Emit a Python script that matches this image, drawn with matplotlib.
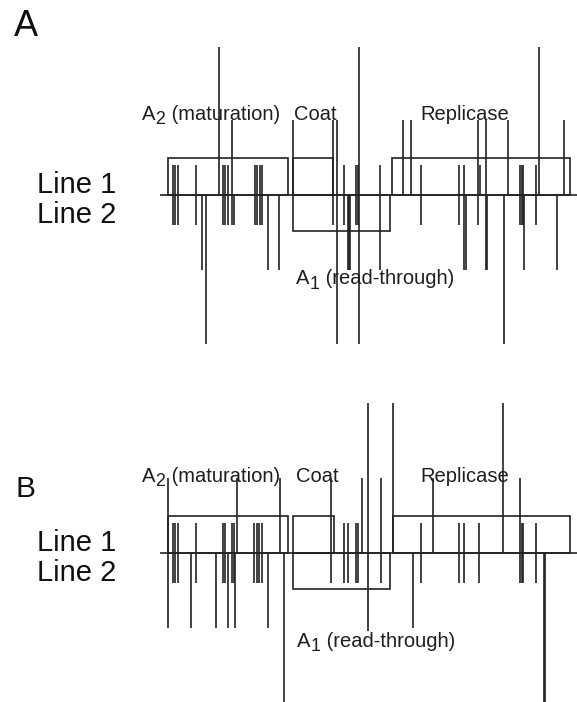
import matplotlib
matplotlib.use("Agg")
import matplotlib.pyplot as plt
from matplotlib.patches import Rectangle

plt.rcParams['font.family'] = ['Liberation Sans', 'DejaVu Sans']

# ---------------- data ----------------
# genes: name, start, end, side (+1 = Line 1 / above, -1 = Line 2 / below)
gene_names = ["A2", "Coat", "A1", "Replicase"]
gene_start_A = [167.7, 292.7, 292.7, 392.0]
gene_end_A = [288.3, 333.0, 390.0, 570.0]
gene_start_B = [167.5, 293.3, 293.3, 392.7]
gene_end_B = [288.3, 334.0, 390.0, 570.0]
gene_side = [1, 1, -1, 1]

# Panel A mutations: position, Line 1 value (up), Line 2 value (down)
pos_A = [172.5, 175.0, 177.5, 195.7, 201.7, 206.0, 219.0, 222.8, 225.3, 227.8,
         232.3, 233.6, 254.5, 257.0, 259.5, 262.0, 267.5, 279.3, 292.6, 332.7,
         336.7, 344.3, 347.7, 349.0, 350.3, 356.2, 357.6, 359.3, 380.0, 402.7,
         410.7, 420.7, 459.3, 464.0, 465.5, 478.3, 479.5, 486.0, 487.2, 504.3,
         507.5, 520.3, 521.6, 522.9, 524.3, 536.0, 539.3, 556.7, 563.5]
line1_A = [1, 1, 1, 1, 0, 0, 4.95, 1, 1, 1,
           2.5, 0, 1, 1, 1, 1, 0, 0, 2.5, 2.5,
           2.5, 1, 0, 0, 0, 1, 1, 4.95, 1, 2.5,
           2.5, 1, 1, 1, 0, 2.5, 1, 2.5, 0, 0,
           2.5, 1, 1, 1, 0, 1, 4.95, 0, 2.5]
line2_A = [1, 1, 1, 1, 2.5, 4.95, 0, 1, 1, 1,
           1, 1, 1, 1, 1, 1, 2.5, 2.5, 0, 1,
           4.95, 1, 2.5, 2.5, 2.5, 1, 1, 4.95, 2.5, 0,
           0, 1, 1, 2.5, 2.5, 1, 0, 2.5, 2.5, 4.95,
           0, 1, 1, 1, 2.5, 1, 0, 2.5, 0]

# Panel B mutations
pos_B = [167.7, 172.8, 175.3, 177.8, 190.7, 195.7, 215.5, 222.8, 225.3, 227.8,
         232.3, 233.6, 235.3, 237.0, 254.0, 256.5, 259.0, 261.5, 267.5, 280.0,
         283.5, 331.0, 344.3, 347.7, 356.3, 357.6, 362.3, 367.7, 381.0, 393.3,
         413.3, 420.7, 433.3, 459.3, 464.0, 479.3, 502.7, 520.3, 521.6, 522.9,
         536.0, 544.0, 545.3]
line1_B = [2.5, 1, 1, 1, 0, 1, 0, 1, 1, 0,
           1, 1, 0, 2.5, 1, 1, 1, 1, 0, 2.5,
           0, 2.5, 1, 1, 1, 1, 2.5, 5.0, 2.5, 5.0,
           0, 1, 2.5, 1, 1, 1, 5.0, 2.5, 1, 1,
           1, 0, 0]
line2_B = [2.5, 1, 1, 1, 2.5, 1, 2.5, 1, 1, 2.5,
           1, 1, 2.5, 0, 1, 1, 1, 1, 2.5, 0,
           5.0, 1, 1, 1, 1, 1, 0, 2.6, 1, 0,
           2.5, 1, 0, 1, 1, 1, 0, 1, 1, 1,
           1, 5.0, 5.0]

# ---------------- drawing ----------------
W, H = 577, 702
fig = plt.figure(figsize=(W / 100, H / 100), dpi=100)
renderer = fig.canvas.get_renderer()
LC = '#222222'
TC = '#1e1e1e'
LW = 1.2
BOX_UP, BOX_DN = 1.25, 1.2
U = 30.0
FS = 14.5


def sub_label(ax, x, y, main, sub, rest):
    """Write main + subscript + rest as separate text pieces."""
    t1 = ax.text(x, y, main, fontsize=FS, va='baseline', color=TC)
    bb = t1.get_window_extent(renderer)
    x2 = ax.transData.inverted().transform((bb.x1, 0))[0]
    t2 = ax.text(x2 + 0.3, y - 4.5 / U, sub, fontsize=FS * 0.88, va='baseline', color=TC)
    bb2 = t2.get_window_extent(renderer)
    x3 = ax.transData.inverted().transform((bb2.x1, 0))[0]
    ax.text(x3 + 0.5, y, rest, fontsize=FS, va='baseline', color=TC)


def panel(ax, pos, l1, l2, gs, ge, ylo, yhi, lab_y, a1_y, coat_x, a1_x):
    ax.set_xlim(0, W)
    ax.set_ylim(ylo, yhi)
    ax.axis('off')
    # baseline
    ax.hlines(0, 160, W, color=LC, lw=LW)
    # gene boxes
    for s, e, side in zip(gs, ge, gene_side):
        h = BOX_UP if side > 0 else -BOX_DN
        ax.add_patch(Rectangle((s, 0), e - s, h, fill=False, ec=LC, lw=LW))
    # mutation lines
    for x, u, d in zip(pos, l1, l2):
        if u > 0:
            ax.vlines(x, 0, u, color=LC, lw=LW)
        if d > 0:
            ax.vlines(x, -d, 0, color=LC, lw=LW)
    sub_label(ax, 141.7, lab_y, "A", "2", " (maturation)")
    ax.text(coat_x, lab_y, "Coat", fontsize=FS, va='baseline', color=TC)
    ax.text(420, lab_y, "Replicase", fontsize=FS, va='baseline', color=TC)
    sub_label(ax, a1_x, a1_y, "A", "1", " (read-through)")
    ax.text(37, 0.08, "Line 1", fontsize=21, va='baseline', color='#111')
    ax.text(37, -0.92, "Line 2", fontsize=21, va='baseline', color='#111')


axA = fig.add_axes([0, 0.5, 1, 0.5])
panel(axA, pos_A, line1_A, line2_A, gene_start_A, gene_end_A,
      (195 - 351) / U, 195 / U, 2.5, -2.97, 294, 295.7)
axA.text(14, (195 - 36) / U, "A", fontsize=26, va='baseline', color='#111')

axB = fig.add_axes([0, 0, 1, 0.5])
panel(axB, pos_B, line1_B, line2_B, gene_start_B, gene_end_B,
      (553 - 702) / U, (553 - 351) / U, 2.38, -3.12, 296, 296.7)
axB.text(15.5, (553 - 497.3) / U, "B", fontsize=21.5, va='baseline', color='#111')

fig.savefig("out.png", dpi=100, facecolor='white')
